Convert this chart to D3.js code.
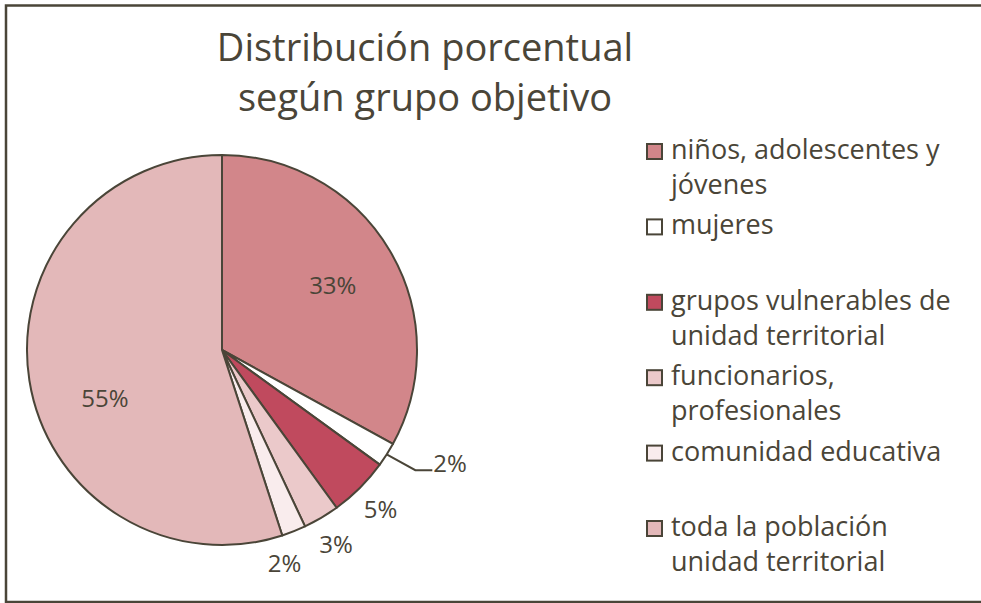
<!DOCTYPE html>
<html><head><meta charset="utf-8">
<script src="https://cdn.jsdelivr.net/npm/d3@7"></script>
<style>html,body{margin:0;padding:0;background:#fff;overflow:hidden}svg{display:block}</style>
</head><body>
<svg id="c" width="981" height="603" viewBox="0 0 981 603"></svg>
<script>
const title = ["Distribución porcentual", "según grupo objetivo"];
const categories = ["niños, adolescentes y jóvenes", "mujeres", "grupos vulnerables de unidad territorial", "funcionarios, profesionales", "comunidad educativa", "toda la población unidad territorial"];
const legendLines = [["niños, adolescentes y", "jóvenes"], ["mujeres"], ["grupos vulnerables de", "unidad territorial"], ["funcionarios,", "profesionales"], ["comunidad educativa"], ["toda la población", "unidad territorial"]];
const values = [33, 2, 5, 3, 2, 55];
const labels = ["33%", "2%", "5%", "3%", "2%", "55%"];
const colors = ["#d2868a", "#ffffff", "#c04a5e", "#ebc9ca", "#f9eced", "#e3b8b9"];

const ink = "#4a4538";
const font = "'Open Sans', sans-serif";
const svg = d3.select("#c");

// frame: top, left, bottom (right side runs off the picture)
svg.append("path").attr("d", "M1000,5.5 H6 V602 H1000")
  .attr("fill", "none").attr("stroke", ink).attr("stroke-width", 2.5);

svg.append("g").selectAll("text").data(title).join("text")
  .attr("x", 425).attr("y", (d, i) => 61 + i * 50)
  .attr("text-anchor", "middle").attr("font-family", font).attr("font-size", 38)
  .attr("fill", ink).text(d => d);

const cx = 222, cy = 350, r = 195;
const pie = d3.pie().sort(null).value(d => d);
const arcs = pie(values);
const arc = d3.arc().innerRadius(0).outerRadius(r);
const g = svg.append("g").attr("transform", `translate(${cx},${cy})`);
g.selectAll("path").data(arcs).join("path")
  .attr("d", arc).attr("fill", (d, i) => colors[i])
  .attr("stroke", ink).attr("stroke-width", 2).attr("stroke-linejoin", "round");

const inArc = d3.arc().innerRadius(r * 0.66).outerRadius(r * 0.66);
const outArc = d3.arc().innerRadius(r * 1.15).outerRadius(r * 1.15);
const edgeArc = d3.arc().innerRadius(r).outerRadius(r);
// label placement nudges (best-fit style)
const nudge = {5: [10, 27], 4: [-20, 4]};

arcs.forEach((a, i) => {
  const big = values[i] >= 10;
  if (i === 1) {
    const p0 = edgeArc.centroid(a), p1 = outArc.centroid(a);
    p1[0] += 4;
    const p2 = [p1[0] + 17, p1[1]];
    g.append("polyline").attr("points", [p0, p1, p2].map(p => p.join(",")).join(" "))
      .attr("fill", "none").attr("stroke", ink).attr("stroke-width", 2);
    g.append("text").attr("x", p2[0] + 1).attr("y", p2[1] - 8)
      .attr("dominant-baseline", "central").attr("font-family", font).attr("font-size", 24)
      .attr("fill", ink).text(labels[i]);
  } else {
    const c = big ? inArc.centroid(a) : outArc.centroid(a);
    const n = nudge[i] || [0, 0];
    g.append("text").attr("x", c[0] + n[0]).attr("y", c[1] + n[1])
      .attr("text-anchor", "middle").attr("dominant-baseline", "central")
      .attr("font-family", font).attr("font-size", 24).attr("fill", ink).text(labels[i]);
  }
});

const lg = svg.append("g");
legendLines.forEach((lines, i) => {
  const by = 159 + i * 75.4;
  lg.append("rect").attr("x", 647).attr("y", by - 15).attr("width", 15).attr("height", 15)
    .attr("fill", colors[i]).attr("stroke", ink).attr("stroke-width", 2);
  lines.forEach((t, j) => {
    lg.append("text").attr("x", 671).attr("y", by + j * 35)
      .attr("font-family", font).attr("font-size", 27).attr("fill", ink).text(t);
  });
});
</script>
</body></html>
